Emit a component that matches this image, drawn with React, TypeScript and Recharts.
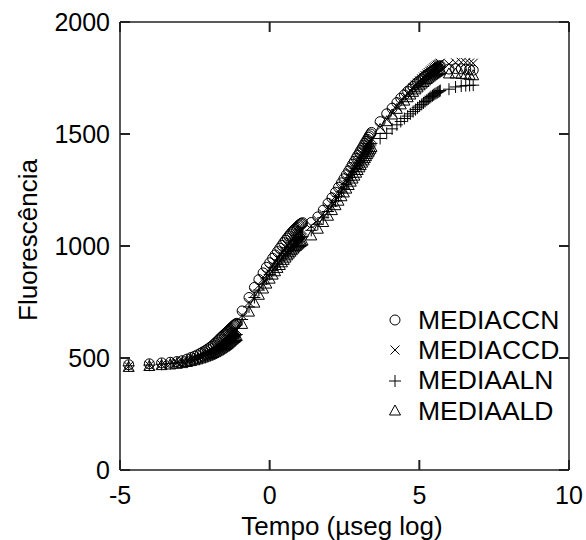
import React from 'react';
import { ComposedChart, Scatter, XAxis, YAxis, ReferenceLine } from 'recharts';

// log time (x axis)
const tempo = [
  -4.71, -4.02, -3.61, -3.32, -3.10, -2.92, -2.76, -2.63, -2.51, -2.41, -2.31, -2.23, -2.15, -2.07, -2.00, -1.94, -1.88, -1.82, -1.77, -1.71, -1.67, -1.62, -1.58, -1.53, -1.49, -1.45, -1.41, -1.38, -1.34, -1.31, -1.28, -1.24, -1.21, -1.18, -1.16, -1.13, -1.10,
  -0.92, -0.69, -0.51, -0.36, -0.22, -0.11, 0.0, 0.10, 0.18, 0.26, 0.34, 0.41, 0.47, 0.53, 0.59, 0.64, 0.69, 0.74, 0.79, 0.83, 0.88, 0.92, 0.96, 0.99, 1.03, 1.06, 1.10,
  1.39, 1.61, 1.79, 1.95, 2.08, 2.20, 2.30, 2.40, 2.48, 2.56, 2.64, 2.71, 2.77, 2.83, 2.89, 2.94, 3.00, 3.04, 3.09, 3.14, 3.18, 3.22, 3.26, 3.30, 3.33, 3.37, 3.40,
  3.69, 3.91, 4.09, 4.25, 4.38, 4.50, 4.61, 4.70, 4.79, 4.87, 4.94, 5.01, 5.08, 5.14, 5.19, 5.25, 5.30, 5.35, 5.39, 5.44, 5.48, 5.52, 5.56, 5.60, 5.63, 5.67, 5.70,
  5.99, 6.21, 6.40, 6.55, 6.68, 6.80,
];

const mediaCCN = [
  470, 474, 478, 481, 484, 488, 495, 502, 508, 514, 521, 527, 533, 540, 546, 552, 559, 566, 572, 580, 585, 592, 597, 603, 608, 613, 618, 622, 627, 631, 635, 639, 643, 646, 649, 652, 655,
  710, 770, 815, 850, 880, 905, 925, 945, 960, 975, 990, 1003, 1015, 1026, 1036, 1045, 1053, 1061, 1068, 1074, 1080, 1085, 1090, 1094, 1098, 1101, 1104,
  1105, 1130, 1160, 1190, 1215, 1240, 1262, 1282, 1300, 1318, 1335, 1350, 1365, 1378, 1392, 1404, 1416, 1426, 1437, 1448, 1458, 1467, 1476, 1485, 1492, 1500, 1507,
  1555, 1590, 1615, 1640, 1660, 1675, 1690, 1700, 1712, 1722, 1730, 1738, 1745, 1752, 1758, 1764, 1769, 1774, 1778, 1782, 1786, 1790, 1793, 1796, 1799, 1802, 1805,
  1790, 1792, 1791, 1789, 1787, 1785,
];

const mediaCCD = [
  463, 467, 471, 474, 478, 482, 488, 494, 499, 504, 510, 515, 520, 526, 531, 536, 541, 547, 552, 558, 562, 568, 572, 577, 581, 586, 590, 594, 598, 602, 606, 610, 614, 617, 620, 623, 626,
  690, 748, 790, 824, 852, 876, 896, 915, 930, 945, 959, 972, 983, 994, 1003, 1012, 1020, 1028, 1035, 1041, 1047, 1052, 1057, 1061, 1065, 1068, 1071,
  1090, 1115, 1144, 1173, 1197, 1221, 1242, 1262, 1279, 1296, 1313, 1328, 1342, 1355, 1368, 1380, 1392, 1402, 1413, 1423, 1433, 1442, 1451, 1459, 1466, 1474, 1481,
  1530, 1565, 1595, 1622, 1645, 1663, 1680, 1693, 1707, 1718, 1728, 1737, 1746, 1754, 1761, 1768, 1774, 1780, 1785, 1790, 1795, 1799, 1803, 1807, 1810, 1813, 1816,
  1812, 1818, 1820, 1819, 1817, 1816,
];

const mediaALN = [
  465, 468, 472, 475, 479, 482, 487, 492, 496, 500, 505, 509, 513, 518, 522, 526, 530, 535, 539, 543, 547, 552, 555, 560, 563, 567, 571, 575, 578, 582, 586, 589, 593, 596, 599, 602, 605,
  672, 728, 770, 803, 830, 853, 873, 891, 906, 920, 934, 946, 957, 967, 976, 985, 993, 1000, 1007, 1013, 1019, 1024, 1029, 1033, 1037, 1040, 1043,
  1070, 1097, 1126, 1154, 1178, 1201, 1222, 1241, 1258, 1275, 1291, 1306, 1320, 1333, 1346, 1358, 1370, 1380, 1391, 1401, 1410, 1419, 1428, 1436, 1443, 1451, 1458,
  1480, 1503, 1523, 1541, 1556, 1569, 1580, 1590, 1600, 1609, 1617, 1625, 1632, 1639, 1645, 1651, 1657, 1662, 1667, 1671, 1675, 1679, 1682, 1685, 1688, 1691, 1694,
  1700, 1710, 1714, 1716, 1717, 1718,
];

const mediaALD = [
  458, 462, 466, 469, 472, 475, 480, 484, 488, 492, 496, 500, 504, 508, 512, 516, 520, 524, 528, 532, 536, 540, 544, 548, 552, 556, 560, 564, 568, 572, 576, 580, 584, 587, 590, 593, 596,
  650, 705, 745, 780, 808, 830, 852, 870, 885, 900, 913, 925, 936, 946, 956, 964, 972, 979, 986, 992, 998, 1003, 1008, 1012, 1016, 1019, 1022,
  1045, 1075, 1105, 1133, 1158, 1180, 1200, 1220, 1237, 1254, 1270, 1285, 1299, 1312, 1325, 1337, 1349, 1359, 1370, 1380, 1390, 1399, 1408, 1416, 1424, 1432, 1440,
  1520, 1555, 1585, 1610, 1630, 1647, 1662, 1674, 1686, 1697, 1706, 1715, 1723, 1730, 1737, 1743, 1749, 1754, 1759, 1763, 1767, 1771, 1775, 1778, 1781, 1784, 1787,
  1768, 1768, 1766, 1764, 1762, 1760,
];

const seriesNames = ['MEDIACCN', 'MEDIACCD', 'MEDIAALN', 'MEDIAALD'];
const xTicks = [-5, 0, 5, 10];
const yTicks = [0, 500, 1000, 1500, 2000];
const xDomain: [number, number] = [-5, 10];
const yDomain: [number, number] = [0, 2000];

const W = 586;
const H = 540;
const MARGIN = { top: 22, right: 17, bottom: 30, left: 60 };
const X_AXIS_H = 40;
const Y_AXIS_W = 60;
const PLOT_TOP = MARGIN.top;
const PLOT_BOTTOM = H - MARGIN.bottom - X_AXIS_H;
const PLOT_LEFT = MARGIN.left + Y_AXIS_W;
const PLOT_RIGHT = W - MARGIN.right;

const FONT = '"Liberation Sans", Arial, Helvetica, sans-serif';
const INK = '#000';
const AXIS = '#222';
const TICK_LEN = 10;
const TICK_FONT = 25;

const toPoints = (ys: number[]) => tempo.map((x, i) => ({ x, y: ys[i] }));

// same linear mapping as the chart's plot box (used only for the inward tick marks)
const sx = (v: number) => PLOT_LEFT + ((v - xDomain[0]) / (xDomain[1] - xDomain[0])) * (PLOT_RIGHT - PLOT_LEFT);
const sy = (v: number) => PLOT_BOTTOM - ((v - yDomain[0]) / (yDomain[1] - yDomain[0])) * (PLOT_BOTTOM - PLOT_TOP);

const CircleMark = (p: any) => (
  <circle cx={p.cx} cy={p.cy} r={5} fill="none" stroke={INK} strokeWidth={1} />
);
const XMark = (p: any) => (
  <path
    d={`M${p.cx - 4.5},${p.cy - 4.5}L${p.cx + 4.5},${p.cy + 4.5}M${p.cx - 4.5},${p.cy + 4.5}L${p.cx + 4.5},${p.cy - 4.5}`}
    stroke={INK}
    strokeWidth={1}
    fill="none"
  />
);
const PlusMark = (p: any) => (
  <path
    d={`M${p.cx - 6},${p.cy}L${p.cx + 6},${p.cy}M${p.cx},${p.cy - 6}L${p.cx},${p.cy + 6}`}
    stroke={INK}
    strokeWidth={1}
    fill="none"
  />
);
const TriMark = (p: any) => (
  <path
    d={`M${p.cx},${p.cy - 6}L${p.cx + 5.5},${p.cy + 4}L${p.cx - 5.5},${p.cy + 4}Z`}
    stroke={INK}
    strokeWidth={1}
    fill="none"
  />
);

const legendIcon = (i: number) => {
  const c = 8;
  if (i === 0) return <circle cx={c} cy={c} r={5} fill="none" stroke={INK} />;
  if (i === 1)
    return <path d={`M${c - 4.5},${c - 4.5}L${c + 4.5},${c + 4.5}M${c - 4.5},${c + 4.5}L${c + 4.5},${c - 4.5}`} stroke={INK} />;
  if (i === 2) return <path d={`M${c - 6},${c}L${c + 6},${c}M${c},${c - 6}L${c},${c + 6}`} stroke={INK} />;
  return <path d={`M${c},${c - 6}L${c + 5.5},${c + 4}L${c - 5.5},${c + 4}Z`} stroke={INK} fill="none" />;
};

export default function App() {
  return (
    <div style={{ position: 'absolute', left: 0, top: 0, width: W, height: H, background: '#fff', fontFamily: FONT }}>
      <ComposedChart width={W} height={H} margin={MARGIN}>
        <XAxis
          dataKey="x"
          type="number"
          domain={xDomain}
          ticks={xTicks}
          allowDataOverflow
          height={X_AXIS_H}
          tickSize={0}
          tickLine={false}
          tickMargin={16}
          stroke={AXIS}
          strokeWidth={1.5}
          tick={{ fill: INK, fontSize: TICK_FONT, fontFamily: FONT }}
        />
        <YAxis
          dataKey="y"
          type="number"
          domain={yDomain}
          ticks={yTicks}
          allowDataOverflow
          width={Y_AXIS_W}
          tickSize={0}
          tickLine={false}
          tickMargin={10}
          stroke={AXIS}
          strokeWidth={1.5}
          tick={{ fill: INK, fontSize: TICK_FONT, fontFamily: FONT }}
        />
        <ReferenceLine y={yDomain[1]} stroke={AXIS} strokeWidth={1.5} />
        <ReferenceLine x={xDomain[1]} stroke={AXIS} strokeWidth={1.5} />
        <Scatter name={seriesNames[0]} data={toPoints(mediaCCN)} shape={CircleMark} isAnimationActive={false} />
        <Scatter name={seriesNames[1]} data={toPoints(mediaCCD)} shape={XMark} isAnimationActive={false} />
        <Scatter name={seriesNames[2]} data={toPoints(mediaALN)} shape={PlusMark} isAnimationActive={false} />
        <Scatter name={seriesNames[3]} data={toPoints(mediaALD)} shape={TriMark} isAnimationActive={false} />
      </ComposedChart>

      {/* inward tick marks on all four sides of the frame */}
      <svg
        width={W}
        height={H}
        style={{ position: 'absolute', left: 0, top: 0, pointerEvents: 'none' }}
      >
        {xTicks.map((t) => (
          <g key={`xt${t}`}>
            <line x1={sx(t)} x2={sx(t)} y1={PLOT_BOTTOM} y2={PLOT_BOTTOM - TICK_LEN} stroke={AXIS} strokeWidth={2} />
            <line x1={sx(t)} x2={sx(t)} y1={PLOT_TOP} y2={PLOT_TOP + TICK_LEN} stroke={AXIS} strokeWidth={2} />
          </g>
        ))}
        {yTicks.map((t) => (
          <g key={`yt${t}`}>
            <line x1={PLOT_LEFT} x2={PLOT_LEFT + TICK_LEN} y1={sy(t)} y2={sy(t)} stroke={AXIS} strokeWidth={2} />
            <line x1={PLOT_RIGHT} x2={PLOT_RIGHT - TICK_LEN} y1={sy(t)} y2={sy(t)} stroke={AXIS} strokeWidth={2} />
          </g>
        ))}
      </svg>

      <div
        style={{
          position: 'absolute',
          left: 28,
          top: 240,
          transform: 'translate(-50%, -50%) rotate(-90deg)',
          fontSize: 26,
          whiteSpace: 'nowrap',
          color: INK,
          lineHeight: 1,
        }}
      >
        Fluorescência
      </div>
      <div
        style={{
          position: 'absolute',
          left: 342,
          top: 526,
          transform: 'translate(-50%, -50%)',
          fontSize: 26,
          whiteSpace: 'nowrap',
          color: INK,
          lineHeight: 1,
        }}
      >
        Tempo (µseg log)
      </div>

      <div style={{ position: 'absolute', left: 387, top: 305 }}>
        {seriesNames.map((n, i) => (
          <div key={n} style={{ display: 'flex', alignItems: 'center', height: 30.3, lineHeight: 1 }}>
            <svg width={16} height={16} style={{ marginRight: 15 }}>
              {legendIcon(i)}
            </svg>
            <span style={{ fontSize: 26.5, color: INK }}>{n}</span>
          </div>
        ))}
      </div>
    </div>
  );
}
